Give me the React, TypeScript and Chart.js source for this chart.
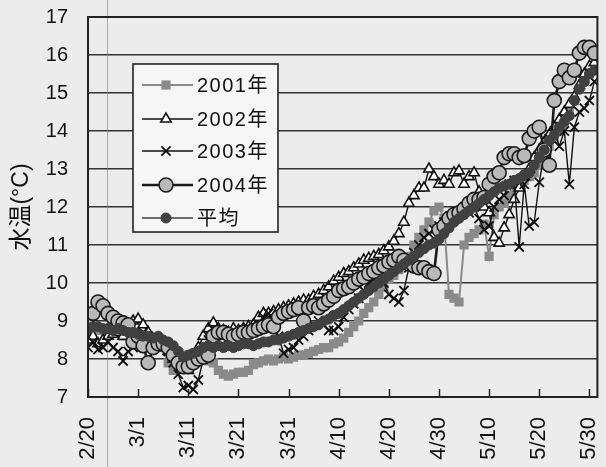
import React, { useEffect, useRef } from 'react';
import { Chart, registerables } from 'chart.js';

Chart.register(...registerables);

const FONT = "'Liberation Sans', 'Noto Sans CJK JP', sans-serif";

// day index 0 = 2/20 (leap year), 10 = 3/1, ... 100 = 5/30
const xTickDays = [0, 10, 20, 30, 40, 50, 60, 70, 80, 90, 100];
const xTickLabels = ['2/20', '3/1', '3/11', '3/21', '3/31', '4/10', '4/20', '4/30', '5/10', '5/20', '5/30'];
const yTickMin = 7;
const yTickMax = 17;
const seriesNames = ['2001年', '2002年', '2003年', '2004年', '平均'];
const yAxisTitle = '水温(°C)';

const y2001 = [
  8.7, 8.8, 8.75, 8.8, 8.7, 8.75, 8.7, 8.6, 8.65, 8.7,
  8.6, 8.55, 8.6, 8.5, 8.4, 8.3, 7.9, 7.7, 7.8, 8.0,
  8.1, 8.15, 8.1, 8.0, 7.95, 7.9, 7.7, 7.6, 7.55, 7.6,
  7.65, 7.65, 7.7, 7.85, 7.9, 7.95, 8.0, 7.95, 8.0, 8.05,
  8.0, 8.05, 8.1, 8.1, 8.15, 8.2, 8.25, 8.3, 8.3, 8.4,
  8.45, 8.55, 8.7, 8.85, 9.0, 9.2, 9.35, 9.5, 9.7, 9.9,
  10.1, 10.2, 10.35, 10.5, 10.7, 11.0, 11.2, 11.4, 11.6, 11.9,
  12.0, 11.7, 9.7, 9.6, 9.5, 11.0, 11.2, 11.3, 11.4, 11.55,
  10.7, 11.8, 12.0, 12.1, 12.3, 12.5, 12.6, 12.7, 12.8, 12.9,
  13.1, 13.3, 13.6, 13.8, 14.0, 14.2, 14.5, 14.8, 15.1, 15.3,
  15.5, 15.6,
];

const y2002 = [
  8.5, 8.6, 8.4, 8.5, 8.6, 8.65, 8.7, 8.6, 8.8, 9.0,
  9.05, 8.9, 8.7, 8.5, 8.4, 8.3, 8.2, 8.0, 7.9, 7.8,
  7.7, 8.0, 8.3, 8.6, 8.8, 8.95, 8.8, 8.75, 8.7, 8.8,
  8.75, 8.8, 8.85, 8.9, 9.1, 9.2, 9.2, 9.25, 9.3, 9.35,
  9.4, 9.45, 9.5, 9.55, 9.55, 9.65, 9.7, 9.8, 9.9, 10.05,
  10.15, 10.25, 10.3, 10.4, 10.5, 10.6, 10.65, 10.7, 10.75, 10.85,
  10.95, 11.1, 11.3, 11.6, 12.1, 12.3, 12.5, 12.5, 13.0, 12.8,
  12.6, 12.7, 12.6, 12.9, 12.95, 12.6, 12.8, 12.9, 12.4, 12.0,
  11.85, 11.2, 11.05, 11.45, 11.8, 12.2, 12.5, 12.8, 13.0, 13.3,
  13.5, 13.7, 13.9, 14.1, 14.3, 14.5, 14.7, 14.9, 15.2, 15.5,
  15.7, 15.8,
];

const y2003 = [
  8.3, 8.45, 8.25, 8.3, 8.45, 8.3, 8.2, 7.95, 8.2, 8.3,
  8.6, 8.7, 8.6, 8.5, 8.45, 8.35, 8.2, 7.9, 7.6, 7.25,
  7.3, 7.2, 7.45, 8.0, 8.5, 8.8, 8.7, 8.6, 8.55, 8.5,
  8.45, 8.6, 8.65, 8.7, 8.8, 9.1, 9.2, 9.0, 8.6, 8.15,
  8.25, 8.3, 8.5, 8.6, 8.75, 8.9, 9.0, 8.9, 8.75, 8.75,
  8.85, 9.1, 9.3, 9.45, 9.6, 9.8, 10.0, 10.1, 10.2, 10.0,
  9.7, 9.6, 9.5, 9.8, 10.4, 10.8, 11.0, 11.2, 11.3, 11.4,
  11.5, 11.6, 11.7, 11.75, 11.8, 11.9, 11.85, 12.0, 11.7, 11.4,
  11.5, 12.0, 12.2, 12.3, 12.6, 12.7, 10.95, 12.6, 11.5, 11.6,
  12.65, 13.4, 13.8, 14.0, 13.6, 14.0, 12.6, 14.1, 14.5, 14.6,
  14.8, 15.3,
];

const y2004 = [
  9.1, 9.2, 9.5, 9.4, 9.2, 9.1, 9.0, 8.95, 8.9, 8.45,
  8.6, 8.35, 7.9, 8.3, 8.4, 8.4, 8.3, 8.1, 7.9, 7.8,
  7.8, 7.9, 8.0, 8.05, 8.1, 8.6, 8.7, 8.7, 8.65, 8.6,
  8.65, 8.7, 8.7, 8.75, 8.8, 8.85, 8.9, 8.85, 9.1, 9.2,
  9.25, 9.3, 9.35, 9.0, 9.35, 9.4, 9.35, 9.45, 9.55, 9.65,
  9.8, 9.85, 9.9, 10.0, 10.1, 10.15, 10.25, 10.3, 10.4, 10.45,
  10.55, 10.6, 10.7, 10.6, 10.5, 10.45, 10.4, 10.4, 10.3, 10.25,
  11.4, 11.5, 11.7, 11.8, 11.85, 11.95, 12.1, 12.2, 12.2, 12.25,
  12.6, 12.8, 12.9, 13.3, 13.4, 13.4, 13.3, 13.35, 13.8, 14.0,
  14.1, 13.5, 13.1, 14.8, 15.3, 15.6, 15.4, 15.6, 16.05, 16.2,
  16.2, 16.05,
];

const yAvg = [
  8.8, 8.85, 8.85, 8.8, 8.8, 8.75, 8.8, 8.75, 8.7, 8.7,
  8.65, 8.6, 8.6, 8.55, 8.6, 8.5, 8.45, 8.35, 8.2, 8.05,
  8.1, 8.15, 8.2, 8.3, 8.35, 8.3, 8.35, 8.3, 8.35, 8.3,
  8.35, 8.4, 8.4, 8.35, 8.4, 8.45, 8.45, 8.5, 8.5, 8.55,
  8.6, 8.65, 8.7, 8.75, 8.8, 8.85, 8.9, 9.0, 9.05, 9.15,
  9.2, 9.3, 9.4, 9.5, 9.6, 9.7, 9.8, 9.9, 10.0, 10.1,
  10.2, 10.3, 10.4, 10.5, 10.6, 10.7, 10.8, 10.9, 11.0, 11.05,
  11.15, 11.3, 11.45, 11.6, 11.7, 11.8, 11.9, 12.0, 12.1, 12.2,
  12.3, 12.4, 12.5, 12.55, 12.6, 12.7, 12.75, 12.85, 12.9, 13.1,
  13.3, 13.5, 13.75, 13.9, 14.1, 14.25, 14.4, 14.8, 15.1, 15.3,
  15.5, 15.6,
];

const seriesValues = [y2001, y2002, y2003, y2004, yAvg];

type Sty = {
  pointStyle: string;
  radius: number;
  fill: string;
  stroke: string;
  pointBorderWidth: number;
  lineColor: string;
  lineWidth: number;
};

const styles: Sty[] = [
  { pointStyle: 'rect', radius: 6.5, fill: '#8a8a8a', stroke: '#8a8a8a', pointBorderWidth: 0, lineColor: '#8a8a8a', lineWidth: 2 },
  { pointStyle: 'triangle', radius: 6, fill: '#ffffff', stroke: '#111111', pointBorderWidth: 1.6, lineColor: '#111111', lineWidth: 1.4 },
  { pointStyle: 'crossRot', radius: 6.5, fill: '#111111', stroke: '#111111', pointBorderWidth: 1.8, lineColor: '#111111', lineWidth: 1.4 },
  { pointStyle: 'circle', radius: 7, fill: '#b9b9b9', stroke: '#1a1a1a', pointBorderWidth: 1.6, lineColor: '#1a1a1a', lineWidth: 2.6 },
  { pointStyle: 'circle', radius: 5, fill: '#404040', stroke: '#404040', pointBorderWidth: 1, lineColor: '#404040', lineWidth: 1.6 },
];

function drawMarker(ctx: CanvasRenderingContext2D, s: Sty, x: number, y: number) {
  const r = s.radius;
  ctx.save();
  ctx.fillStyle = s.fill;
  ctx.strokeStyle = s.stroke;
  ctx.lineWidth = s.pointBorderWidth || 1;
  ctx.beginPath();
  if (s.pointStyle === 'rect') {
    const h = r * Math.SQRT1_2;
    ctx.rect(x - h, y - h, 2 * h, 2 * h);
    ctx.fill();
  } else if (s.pointStyle === 'triangle') {
    ctx.moveTo(x, y - r);
    ctx.lineTo(x - r * 0.866, y + r * 0.5);
    ctx.lineTo(x + r * 0.866, y + r * 0.5);
    ctx.closePath();
    ctx.fill();
    ctx.stroke();
  } else if (s.pointStyle === 'crossRot') {
    const h = r * Math.SQRT1_2;
    ctx.moveTo(x - h, y - h);
    ctx.lineTo(x + h, y + h);
    ctx.moveTo(x - h, y + h);
    ctx.lineTo(x + h, y - h);
    ctx.stroke();
  } else {
    ctx.arc(x, y, r, 0, Math.PI * 2);
    ctx.fill();
    ctx.stroke();
  }
  ctx.restore();
}

const framePlugin = {
  id: 'frameAndLegend',
  beforeDraw(chart: any) {
    const ctx = chart.ctx as CanvasRenderingContext2D;
    ctx.save();
    ctx.fillStyle = '#ececec';
    ctx.fillRect(0, 0, chart.width, chart.height);
    ctx.restore();
  },
  beforeDatasetsDraw(chart: any) {
    const ctx = chart.ctx as CanvasRenderingContext2D;
    const xs = chart.scales.x;
    ctx.save();
    // faint scan line
    ctx.strokeStyle = 'rgba(120,120,120,0.55)';
    ctx.lineWidth = 1;
    ctx.beginPath();
    ctx.moveTo(chart.chartArea.left + 19.5, 0);
    ctx.lineTo(chart.chartArea.left + 19.5, chart.height);
    ctx.stroke();
    // inner tick marks on x axis
    ctx.strokeStyle = '#222';
    ctx.lineWidth = 1.5;
    const b = chart.chartArea.bottom;
    xTickDays.forEach((d) => {
      const px = Math.round(xs.getPixelForValue(d)) + 0.5;
      ctx.beginPath();
      ctx.moveTo(px, b);
      ctx.lineTo(px, b - 8);
      ctx.stroke();
    });
    ctx.restore();
  },
  afterDraw(chart: any) {
    const ctx = chart.ctx as CanvasRenderingContext2D;
    const { left, top, right, bottom } = chart.chartArea;
    ctx.save();
    ctx.strokeStyle = '#222';
    ctx.lineWidth = 2;
    ctx.strokeRect(left, top, right - left, bottom - top);

    // legend box
    const lx = left + 45;
    const ly = top + 47;
    const lw = 145;
    const lh = 168;
    ctx.fillStyle = '#f6f6f6';
    ctx.fillRect(lx, ly, lw, lh);
    ctx.strokeStyle = '#222';
    ctx.lineWidth = 1.6;
    ctx.strokeRect(lx, ly, lw, lh);
    const rows = [21, 55, 87, 121, 154];
    seriesNames.forEach((name, i) => {
      const s = styles[i];
      const yy = ly + rows[i];
      ctx.strokeStyle = s.lineColor;
      ctx.lineWidth = s.lineWidth;
      ctx.beginPath();
      ctx.moveTo(lx + 9, yy);
      ctx.lineTo(lx + 60, yy);
      ctx.stroke();
      drawMarker(ctx, s, lx + 33, yy);
      ctx.save();
      ctx.fillStyle = '#111';
      ctx.font = `20px ${FONT}`;
      try { (ctx as any).letterSpacing = '1.5px'; } catch (e) { /* ignore */ }
      ctx.textBaseline = 'middle';
      ctx.textAlign = 'left';
      ctx.fillText(name, lx + 64, yy + 1);
      ctx.restore();
    });
    ctx.restore();
  },
};

export default function App() {
  const ref = useRef<HTMLCanvasElement | null>(null);

  useEffect(() => {
    if (!ref.current) return;
    const datasets = seriesValues.map((vals, i) => {
      const s = styles[i];
      return {
        label: seriesNames[i],
        data: vals.map((v, d) => ({ x: d, y: v })),
        borderColor: s.lineColor,
        borderWidth: s.lineWidth,
        backgroundColor: s.fill,
        pointStyle: s.pointStyle,
        pointRadius: s.radius,
        pointBackgroundColor: s.fill,
        pointBorderColor: s.stroke,
        pointBorderWidth: s.pointBorderWidth,
        tension: 0,
        fill: false,
        order: seriesValues.length - i,
      };
    });

    const chart = new Chart(ref.current, {
      type: 'line',
      data: { datasets: datasets as any },
      plugins: [framePlugin as any],
      options: {
        animation: false,
        responsive: false,
        maintainAspectRatio: false,
        layout: { padding: { left: 0, top: 17, right: 6, bottom: 0 } },
        plugins: {
          legend: { display: false },
          tooltip: { enabled: false },
        },
        scales: {
          x: {
            type: 'linear',
            min: 0,
            max: 101.6,
            afterBuildTicks: (scale: any) => {
              scale.ticks = xTickDays.map((v) => ({ value: v }));
            },
            afterFit: (scale: any) => {
              scale.height = 70;
              scale.paddingLeft = 0;
              scale.paddingRight = 0;
            },
            grid: { display: false, drawTicks: false },
            border: { display: false },
            ticks: {
              autoSkip: false,
              minRotation: 90,
              maxRotation: 90,
              padding: 20,
              color: '#111',
              font: { family: FONT, size: 22 },
              callback: (value: any) => {
                const idx = xTickDays.indexOf(Number(value));
                return idx >= 0 ? xTickLabels[idx] : '';
              },
            },
          },
          y: {
            type: 'linear',
            min: yTickMin,
            max: yTickMax,
            afterFit: (scale: any) => {
              scale.width = 88;
              scale.paddingTop = 0;
              scale.paddingBottom = 0;
            },
            grid: { color: '#333333', lineWidth: 1.6, drawTicks: false },
            border: { display: false },
            ticks: {
              stepSize: 1,
              padding: 20,
              color: '#111',
              font: { family: FONT, size: 20 },
            },
            title: {
              display: true,
              text: yAxisTitle,
              color: '#111',
              font: { family: FONT, size: 23 },
              padding: { top: 8, bottom: 0 },
            },
          },
        },
      },
    });
    return () => chart.destroy();
  }, []);

  return (
    <div style={{ position: 'fixed', left: 0, top: 0, width: 606, height: 467 }}>
      <canvas ref={ref} width={606} height={467} style={{ width: 606, height: 467 }} />
    </div>
  );
}
